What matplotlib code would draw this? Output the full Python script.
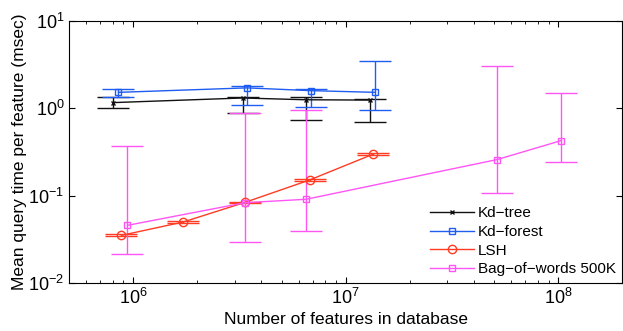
import matplotlib
matplotlib.use('Agg')
import matplotlib.pyplot as plt
import numpy as np

plt.rcParams['font.family'] = ['Liberation Sans', 'DejaVu Sans']
plt.rcParams['mathtext.fontset'] = 'custom'
plt.rcParams['mathtext.rm'] = 'Liberation Sans'

# Kd-tree
kdt_x = [8.06e5, 3.27e6, 6.5e6, 1.3e7]
kdt_y = [1.16, 1.31, 1.25, 1.24]
kdt_lo = [1.0, 0.88, 0.73, 0.70]
kdt_hi = [1.35, 1.33, 1.34, 1.27]

# Kd-forest
kdf_x = [8.53e5, 3.43e6, 6.84e6, 1.37e7]
kdf_y = [1.52, 1.71, 1.59, 1.52]
kdf_lo = [1.35, 1.10, 1.04, 0.957]
kdf_hi = [1.65, 1.78, 1.65, 3.48]

# LSH
lsh_x = [8.81e5, 1.72e6, 3.36e6, 6.76e6, 1.34e7]
lsh_y = [0.0351, 0.0499, 0.0838, 0.151, 0.297]
lsh_lo = [0.0342, 0.0489, 0.0822, 0.146, 0.288]
lsh_hi = [0.0360, 0.0509, 0.0854, 0.156, 0.306]

# Bag-of-words 500K
bow_x = [9.4e5, 3.36e6, 6.5e6, 5.13e7, 1.03e8]
bow_y = [0.0457, 0.083, 0.0908, 0.258, 0.426]
bow_lo = [0.0213, 0.0292, 0.039, 0.107, 0.243]
bow_hi = [0.367, 0.89, 0.957, 3.03, 1.50]

series = [
    ('Kd\u2212tree', kdt_x, kdt_y, kdt_lo, kdt_hi, '#111111', 'x', 3.5),
    ('Kd\u2212forest', kdf_x, kdf_y, kdf_lo, kdf_hi, '#1f5cf0', 's', 5),
    ('LSH', lsh_x, lsh_y, lsh_lo, lsh_hi, '#ff3b24', 'o', 6),
    ('Bag\u2212of\u2212words 500K', bow_x, bow_y, bow_lo, bow_hi, '#ff55f5', 's', 5),
]

fig, ax = plt.subplots(figsize=(6.23, 3.31), dpi=100)
fig.subplots_adjust(left=0.111, right=0.999, top=0.937, bottom=0.145)

for name, x, y, lo, hi, c, m, ms in series:
    y = np.array(y)
    err = [y - np.array(lo), np.array(hi) - y]
    ax.errorbar(x, y, yerr=err, color=c, marker=m, markersize=ms,
                markerfacecolor='none', markeredgecolor=c, markeredgewidth=1.0,
                lw=1.0, elinewidth=1.0, capsize=11.5, capthick=1.5, label=name)

ax.set_xscale('log')
ax.set_yscale('log')
ax.set_xlim(5e5, 2e8)
ax.set_ylim(1e-2, 1e1)
ax.tick_params(which='both', direction='in', top=True, right=True, labelsize=13)
ax.tick_params(which='major', length=4)
ax.tick_params(which='minor', length=2)
ax.yaxis.set_minor_locator(matplotlib.ticker.NullLocator())
ax.set_xlabel('Number of features in database', fontsize=12.5, labelpad=3)
ax.set_ylabel('Mean query time per feature (msec)', fontsize=12.5, labelpad=1)

handles, labels = ax.get_legend_handles_labels()
handles = [h[0] for h in handles]
ax.legend(handles, labels, loc='lower right', frameon=False, fontsize=11,
          handlelength=2.9, handletextpad=0.2, labelspacing=0.3,
          borderaxespad=0.05)

fig.savefig('out.png', dpi=100)
